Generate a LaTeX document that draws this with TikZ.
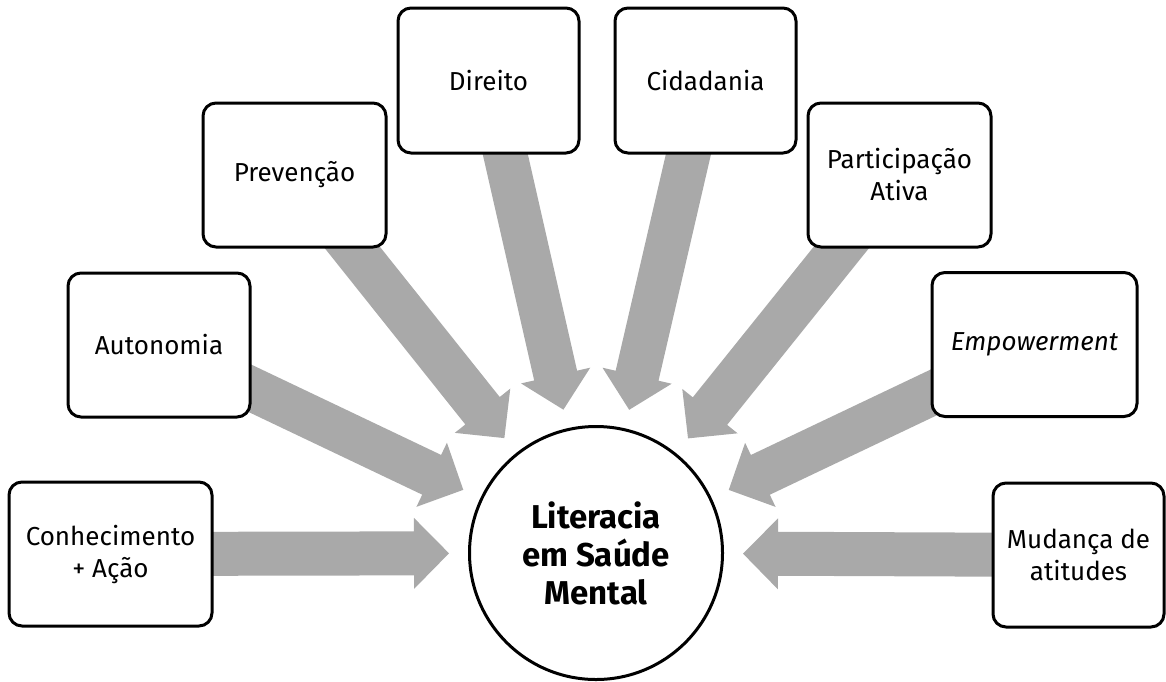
\documentclass[tikz,border=0pt]{standalone}
\usepackage{fontspec}
\setmainfont{Fira Sans}
\usetikzlibrary{calc}
\definecolor{arrowgray}{RGB}{169,169,169}
\pgfdeclarelayer{bg}
\pgfsetlayers{bg,main}
\tikzset{
  box/.style={draw=black, line width=3pt, rounded corners=13pt, fill=white,
    align=center, font=\fontsize{26}{32}\selectfont, minimum height=144pt, inner sep=0pt},
  hub/.style={circle, draw=black, line width=3pt, fill=white, minimum size=253pt,
    align=center, font=\fontsize{33}{38}\selectfont\bfseries, inner sep=0pt},
  blockarrow/.style={fill=arrowgray}
}
\newcommand\radarrow[2]{%
  \coordinate (T) at ($(#1.center)!147pt!(#2.center)$);
  \coordinate (H) at ($(T)!35pt!(#2.center)$);
  \fill[blockarrow] (T) -- ($(H)!35.5pt!90:(#2.center)$) -- ($(H)!22pt!90:(#2.center)$)
    -- ($(#2.center)!22pt!-90:(H)$) -- ($(#2.center)!22pt!90:(H)$)
    -- ($(H)!22pt!-90:(#2.center)$) -- ($(H)!35.5pt!-90:(#2.center)$) -- cycle;
}
\begin{document}
\begin{tikzpicture}[x=1pt,y=-1pt]
\useasboundingbox (0,0) rectangle (1166,681);
\node[hub] (hub) at (596,553) {Literacia\\em Saúde\\Mental};
\node[box, minimum width=203pt] (k1) at (110.5,554) {Conhecimento\\+ Ação};
\node[box, minimum width=182pt] (k2) at (159,345) {Autonomia};
\node[box, minimum width=183pt] (k3) at (294.5,175) {Prevenção};
\node[box, minimum width=181pt, minimum height=145pt] (k4) at (488.5,80.5) {Direito};
\node[box, minimum width=181pt, minimum height=145pt] (k5) at (705.5,80.5) {Cidadania};
\node[box, minimum width=183pt] (k6) at (899.5,175) {Participação\\Ativa};
\node[box, minimum width=205pt] (k7) at (1034.5,344.5) {\itshape Empowerment};
\node[box, minimum width=171pt] (k8) at (1078.5,555) {Mudança de\\atitudes};
\begin{pgfonlayer}{bg}
\radarrow{hub}{k1}
\radarrow{hub}{k2}
\radarrow{hub}{k3}
\radarrow{hub}{k4}
\radarrow{hub}{k5}
\radarrow{hub}{k6}
\radarrow{hub}{k7}
\radarrow{hub}{k8}
\end{pgfonlayer}
\end{tikzpicture}
\end{document}
